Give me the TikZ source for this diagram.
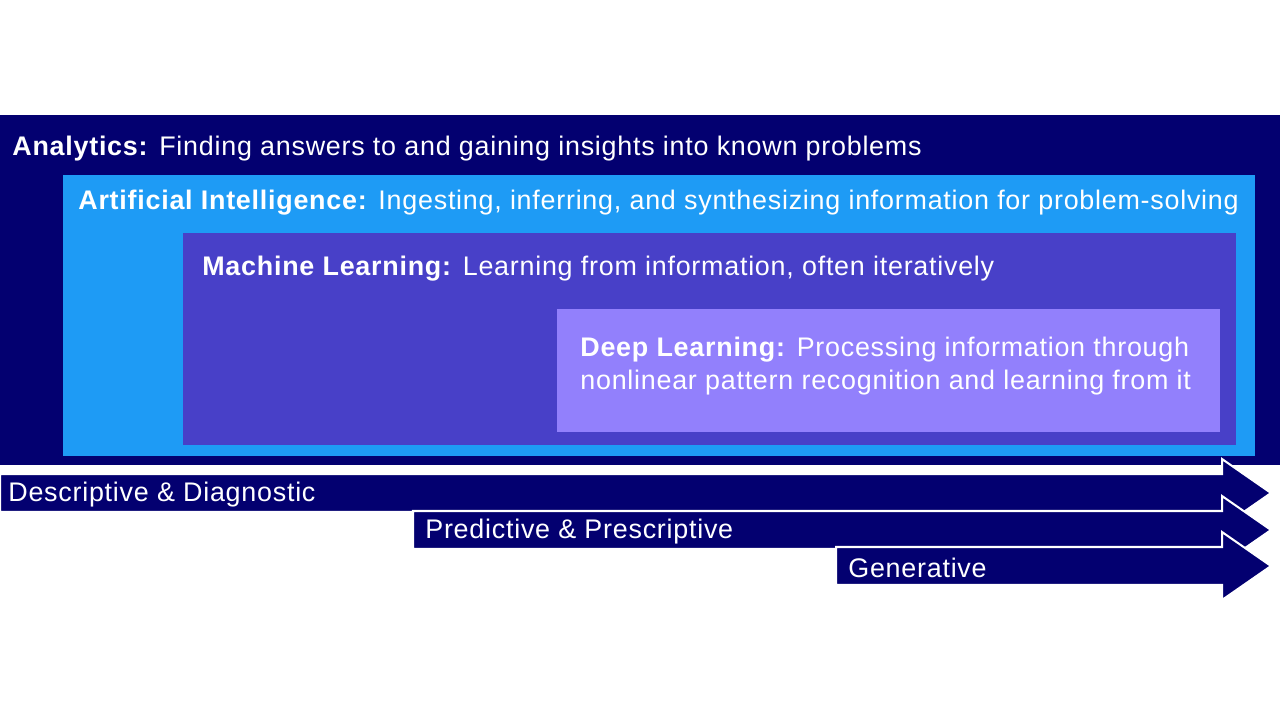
\documentclass[tikz,border=0pt]{standalone}
\usepackage{fontspec}
\setmainfont[LetterSpace=2.8]{Liberation Sans}
\usetikzlibrary{positioning}
\definecolor{anavy}{RGB}{3,0,112}
\definecolor{aiblue}{RGB}{30,155,245}
\definecolor{mlpurple}{RGB}{72,64,200}
\definecolor{dllilac}{RGB}{146,128,252}

\begin{document}
\begin{tikzpicture}[
  x=0.02cm,y=-0.02cm,
  txt/.style={font=\fontsize{15.3}{19.3}\selectfont,text=white,anchor=west,inner sep=0pt,align=left},
  band/.style={fill=anavy,draw=white,line width=1.15pt,line join=miter}
]
\useasboundingbox (0,0) rectangle (1280,720);

% nested boxes
\fill[anavy] (0,115) rectangle (1280,465);
\fill[aiblue] (63,175) rectangle (1255,456);
\fill[mlpurple] (183,233) rectangle (1236,445);
\fill[dllilac] (557,309) rectangle (1220,432);

% box texts
\node[txt] (analytics) at (12,149) {\textbf{Analytics:} Finding answers to and gaining insights into known problems};
\node[txt] (ai) at (78,203) {\textbf{Artificial Intelligence:} Ingesting, inferring, and synthesizing information for problem-solving};
\node[txt] (ml) at (202,269) {\textbf{Machine Learning:} Learning from information, often iteratively};
\node[txt] (dl) at (580,366) {\textbf{Deep Learning:} Processing information through\\nonlinear pattern recognition and learning from it};

% stage arrows
\foreach \xs/\xt/\yc/\name/\lbl in {0/8/493/desc/Descriptive \& Diagnostic,413/425/530/pred/Predictive \& Prescriptive,836/848/566/gen/Generative} {
  \draw[band] (\xs,\yc-19) -- (1222,\yc-19) -- (1222,\yc-34) -- (1271,\yc) -- (1222,\yc+34) -- (1222,\yc+19) -- (\xs,\yc+19) -- cycle;
  \node[txt] (\name) at (\xt,\yc+2) {\lbl};
}

\end{tikzpicture}
\end{document}
